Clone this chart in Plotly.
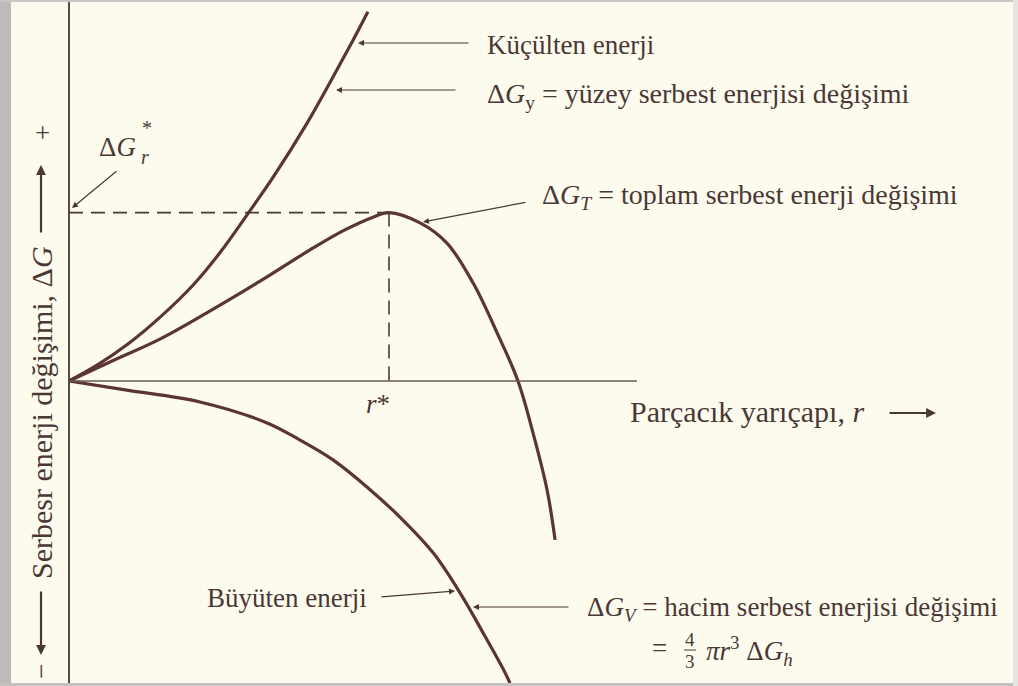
import plotly.graph_objects as go

# Free energy change vs. particle radius (schematic nucleation diagram)
# r in arbitrary units, energies in arbitrary units

# Surface free energy change, ΔG_y
r_surface = [0.0, 0.94, 1.81, 2.84, 3.88, 4.72, 5.63, 6.38, 7.44, 8.25, 8.88, 9.34]
g_surface = [0.0, 0.45, 0.95, 1.67, 2.52, 3.37, 4.44, 5.35, 6.77, 7.98, 8.95, 9.69]

# Total free energy change, ΔG_T
r_total = [0.0, 1.28, 2.84, 4.41, 5.97, 7.53, 8.56, 9.50, 10.0, 10.97, 11.81,
           12.63, 13.38, 14.03, 14.50, 14.94, 15.19]
g_total = [0.0, 0.50, 1.10, 1.84, 2.62, 3.44, 3.94, 4.30, 4.42, 4.15, 3.62,
           2.57, 1.26, 0.0, -1.36, -2.86, -4.17]

# Volume free energy change, ΔG_V
r_volume = [0.0, 1.81, 4.09, 6.19, 7.22, 8.25, 9.31, 10.34, 11.38, 12.22,
            12.94, 13.63, 13.78]
g_volume = [0.0, -0.24, -0.55, -1.10, -1.55, -2.07, -2.78, -3.57, -4.51,
            -5.56, -6.61, -7.66, -7.93]

# Critical radius and critical free energy
r_crit = 10.0
g_crit = 4.42
r_axis_end = 17.75

W, H = 1018, 686
X0_PX, Y0_PX = 69, 381          # origin position on the canvas
PX_PER_R, PX_PER_G = 32.0, 38.1

BG = "#fdfbee"
INK = "#4a3836"
CURVE = "#5a3533"
FONT = "Liberation Serif, Times New Roman, DejaVu Serif, serif"


def px(x, y):
    """Canvas pixel -> paper coordinates."""
    return x / W, 1 - y / H


fig = go.Figure()

for rr, gg in [(r_surface, g_surface), (r_total, g_total), (r_volume, g_volume)]:
    fig.add_trace(go.Scatter(
        x=rr, y=gg, mode="lines",
        line=dict(color=CURVE, width=3.2, shape="spline", smoothing=1.0),
        hoverinfo="skip",
    ))

# dashed guides to the maximum of ΔG_T
fig.add_trace(go.Scatter(
    x=[0, r_crit], y=[g_crit, g_crit], mode="lines",
    line=dict(color=INK, width=1.6, dash="14px,8px"), hoverinfo="skip"))
fig.add_trace(go.Scatter(
    x=[r_crit, r_crit], y=[g_crit, 0], mode="lines",
    line=dict(color=INK, width=1.6, dash="14px,8px"), hoverinfo="skip"))

shapes = [
    # vertical ΔG axis
    dict(type="line", xref="x", yref="paper", x0=0, x1=0, y0=0, y1=1,
         line=dict(color=INK, width=1.8)),
    # horizontal r axis
    dict(type="line", xref="x", yref="y", x0=0, x1=r_axis_end, y0=0, y1=0,
         line=dict(color="#6a5856", width=1.5)),
    # page edges
    dict(type="rect", xref="paper", yref="paper", x0=0, x1=11 / W, y0=0, y1=1,
         fillcolor="#bdbabc", line=dict(width=0), layer="above"),
    dict(type="rect", xref="paper", yref="paper", x0=0, x1=1, y0=1 - 2 / H, y1=1,
         fillcolor="#c9c6c6", line=dict(width=0), layer="above"),
    dict(type="rect", xref="paper", yref="paper", x0=0, x1=1, y0=0, y1=3 / H,
         fillcolor="#c4c1c1", line=dict(width=0), layer="above"),
    dict(type="rect", xref="paper", yref="paper", x0=1 - 5 / W, x1=1, y0=0, y1=1,
         fillcolor="#e6e4e2", line=dict(width=0), layer="above"),
]

annotations = []


def text(s, x, y, size=27, xanchor="left", angle=0):
    xp, yp = px(x, y)
    annotations.append(dict(
        text=s, x=xp, y=yp, xref="paper", yref="paper", showarrow=False,
        xanchor=xanchor, yanchor="middle", textangle=angle,
        font=dict(family=FONT, size=size, color=INK)))


def arrow(x_tail, y_tail, x_head, y_head, width=1.2, size=1.0, color=INK):
    xp, yp = px(x_head, y_head)
    annotations.append(dict(
        text="", x=xp, y=yp, xref="paper", yref="paper", showarrow=True,
        ax=x_tail - x_head, ay=y_tail - y_head, axref="pixel", ayref="pixel",
        arrowhead=2, arrowsize=size, arrowwidth=width, arrowcolor=color,
        standoff=0, startstandoff=0))


# curve labels
text("Küçülten enerji", 485, 45)
arrow(470, 43, 358, 43)
text("Δ<i>G</i><sub>y</sub> = yüzey serbest enerjisi değişimi", 485, 95, size=28)
arrow(457, 90, 336, 90)
text("Δ<i>G</i><sub><i>T</i></sub> = toplam serbest enerji değişimi", 540, 197, size=28)
arrow(527, 202, 423, 222)
text("Büyüten enerji", 205, 598)
arrow(380, 597, 455, 591)
text("Δ<i>G</i><sub><i>V</i></sub> = hacim serbest enerjisi değişimi", 585, 609, size=27)
arrow(570, 607, 473, 607)

# second line of the ΔG_V definition with a stacked 4/3
text("=", 650, 648, size=27)
text("4", 690, 639, size=19, xanchor="center")
text("3", 690, 661, size=19, xanchor="center")
shapes.append(dict(type="line", xref="paper", yref="paper",
                   x0=684 / W, x1=696 / W, y0=1 - 650 / H, y1=1 - 650 / H,
                   line=dict(color=INK, width=1)))
text("<i>πr</i><sup>3</sup> Δ<i>G</i><sub><i>h</i></sub>", 704, 651, size=27)

# critical values
text("<i>r</i>*", 378, 404, xanchor="center")
text("Δ<i>G</i>", 97, 147)
text("*", 140, 128, size=20)
text("<i>r</i>", 139, 157, size=20)
arrow(118, 170, 72, 208)

# horizontal axis title
text("Parçacık yarıçapı, <i>r</i>", 628, 412, size=30)
arrow(888, 413, 936, 413, width=2.2, size=0.9)

# vertical axis title with direction arrows
text("Serbesr enerji değişimi, Δ<i>G</i>", 41, 413, size=30, xanchor="center", angle=-90)
text("+", 42, 133, xanchor="center")
text("−", 41, 672, xanchor="center", angle=-90)
arrow(41, 234, 41, 165, width=2.2, size=0.9)
arrow(41, 590, 41, 655, width=2.2, size=0.9)

fig.update_layout(
    width=W, height=H,
    margin=dict(l=0, r=0, t=0, b=0),
    paper_bgcolor=BG, plot_bgcolor=BG,
    showlegend=False,
    xaxis=dict(visible=False, range=[-X0_PX / PX_PER_R, (W - X0_PX) / PX_PER_R]),
    yaxis=dict(visible=False, range=[-(H - Y0_PX) / PX_PER_G, Y0_PX / PX_PER_G]),
    shapes=shapes,
    annotations=annotations,
)

fig.write_html("out.html")
